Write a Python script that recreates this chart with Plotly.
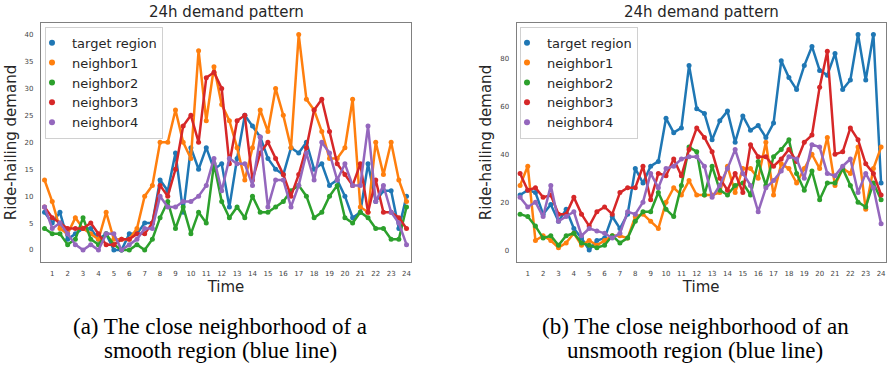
import plotly.graph_objects as go

# ---------------- data ----------------
TIME = [0.5, 1.0, 1.5, 2.0, 2.5, 3.0, 3.5, 4.0, 4.5, 5.0, 5.5, 6.0, 6.5, 7.0, 7.5, 8.0,
        8.5, 9.0, 9.5, 10.0, 10.5, 11.0, 11.5, 12.0, 12.5, 13.0, 13.5, 14.0, 14.5, 15.0, 15.5, 16.0,
        16.5, 17.0, 17.5, 18.0, 18.5, 19.0, 19.5, 20.0, 20.5, 21.0, 21.5, 22.0, 22.5, 23.0, 23.5, 24.0]
HOUR_TICKS = [1, 2, 3, 4, 5, 6, 7, 8, 9, 10, 11, 12, 13, 14, 15, 16, 17, 18, 19, 20, 21, 22, 23, 24]
SERIES_NAMES = ["target region", "neighbor1", "neighbor2", "neighbor3", "neighbor4"]

# (a) smooth region
smooth_target = [7, 5, 7, 2, 3, 4, 4, 2, 3, 0, 0, 3, 3, 5, 5, 13,
                 11, 18, 7, 19, 15, 19, 15, 16, 8, 17, 25, 23, 21, 17, 15, 14,
                 19, 18, 20, 15, 16, 12, 13, 10, 6, 7, 16, 9, 11, 11, 4, 10]
smooth_n1 = [13, 9, 4, 3, 6, 4, 3, 2, 7, 2, 2, 2, 4, 10, 12, 20,
             20, 26, 20, 17, 37, 24, 34, 27, 24, 19, 13, 19, 26, 22, 30, 25,
             19, 40, 28, 26, 22, 17, 17, 19, 28, 8, 7, 20, 14, 20, 13, 9]
smooth_n2 = [4, 3, 3, 1, 2, 6, 2, 1, 3, 1, 0, 0, 1, 0, 2, 6,
             9, 4, 8, 3, 7, 5, 16, 9, 6, 8, 6, 10, 7, 7, 8, 9,
             11, 12, 10, 6, 7, 10, 12, 6, 5, 7, 6, 4, 4, 2, 2, 8]
smooth_n3 = [8, 6, 5, 4, 4, 4, 5, 3, 1, 1, 2, 2, 3, 3, 5, 12,
             10, 15, 23, 25, 20, 32, 33, 30, 16, 24, 25, 13, 18, 20, 17, 14,
             10, 14, 19, 26, 28, 22, 16, 14, 12, 16, 7, 13, 7, 7, 6, 4]
smooth_n4 = [8, 4, 5, 3, 1, 0, 1, 0, 3, 3, 0, 1, 2, 4, 4, 10,
             8, 8, 9, 9, 10, 12, 17, 11, 17, 16, 16, 12, 21, 8, 13, 13,
             8, 12, 18, 13, 20, 18, 13, 16, 12, 12, 23, 9, 12, 7, 5, 1]

# (b) unsmooth region
unsmooth_target = [23, 25, 24, 15, 19, 12, 17, 9, 5, 0, 4, 5, 14, 9, 15, 34,
                   28, 35, 37, 55, 49, 51, 77, 59, 57, 46, 54, 58, 45, 56, 50, 52,
                   47, 53, 79, 72, 67, 77, 85, 75, 73, 82, 67, 71, 90, 71, 90, 28]
unsmooth_n1 = [27, 35, 4, 6, 4, 1, 3, 7, 2, 4, 2, 4, 6, 6, 5, 14,
               15, 12, 9, 20, 26, 23, 29, 23, 23, 23, 24, 35, 24, 34, 34, 30,
               45, 23, 36, 34, 28, 34, 40, 34, 47, 27, 34, 32, 43, 17, 34, 43]
unsmooth_n2 = [15, 14, 10, 5, 6, 2, 6, 7, 3, 2, 1, 2, 6, 3, 5, 12,
               16, 16, 24, 17, 14, 27, 43, 41, 23, 35, 25, 23, 27, 28, 23, 37,
               27, 39, 42, 46, 32, 25, 33, 21, 28, 28, 34, 27, 20, 18, 28, 21]
unsmooth_n3 = [32, 25, 26, 22, 23, 15, 15, 22, 15, 10, 16, 18, 15, 24, 26, 26,
               35, 21, 32, 31, 38, 31, 42, 51, 47, 41, 30, 25, 32, 24, 44, 39,
               39, 35, 38, 42, 37, 45, 48, 68, 83, 40, 41, 51, 46, 36, 32, 23]
unsmooth_n4 = [22, 18, 20, 14, 27, 12, 14, 16, 6, 9, 8, 7, 5, 7, 16, 15,
               20, 32, 26, 34, 35, 38, 39, 39, 35, 22, 27, 34, 42, 32, 27, 16,
               26, 29, 33, 39, 38, 30, 44, 43, 32, 31, 35, 38, 24, 32, 26, 11]

SMOOTH_TICKS = [0, 5, 10, 15, 20, 25, 30, 35, 40]
UNSMOOTH_TICKS = [0, 20, 40, 60, 80]
CAPTIONS = [["(a) The close neighborhood of a", "smooth region (blue line)"],
            ["(b) The close neighborhood of an", "unsmooth region (blue line)"]]
TITLE = "24h demand pattern"

# ---------------- style ----------------
COLORS = ["#1f77b4", "#ff7f0e", "#2ca02c", "#d62728", "#9467bd"]
W, H = 887, 366
TXT = "#262626"
FONT = "DejaVu Sans"

def px_x(p):
    return p / W

def px_y(p):
    return 1 - p / H

fig = go.Figure()

panels = [
    dict(series=[smooth_target, smooth_n1, smooth_n2, smooth_n3, smooth_n4],
         xa="x", ya="y", legend="legend"),
    dict(series=[unsmooth_target, unsmooth_n1, unsmooth_n2, unsmooth_n3, unsmooth_n4],
         xa="x2", ya="y2", legend="legend2"),
]

for p in panels:
    for name, vals, col in zip(SERIES_NAMES, p["series"], COLORS):
        fig.add_trace(go.Scatter(
            x=TIME, y=vals, mode="lines+markers", name=name,
            line=dict(color=col, width=2.5),
            marker=dict(color=col, size=5),
            xaxis=p["xa"], yaxis=p["ya"], showlegend=False, hoverinfo="skip"))
    # legend entries (dot-only handles, like a scatter legend)
    for name, col in zip(SERIES_NAMES, COLORS):
        fig.add_trace(go.Scatter(
            x=[None], y=[None], mode="markers", name=name,
            marker=dict(color=col, size=6),
            xaxis=p["xa"], yaxis=p["ya"], showlegend=True, legend=p["legend"]))

ydom = [px_y(262.3), px_y(22.7)]
x1dom = [px_x(41), px_x(411)]
x2dom = [px_x(516.7), px_x(885.7)]

axis_common = dict(showline=True, mirror=True, linecolor="#808080", linewidth=1.3,
                   showgrid=False, zeroline=False, ticks="",
                   tickfont=dict(family=FONT, size=7, color="#444444"))

legend_common = dict(xanchor="left", yanchor="top", bgcolor="white",
                     bordercolor="#d0d0d0", borderwidth=1, indentation=-14,
                     font=dict(family=FONT, size=13, color=TXT), itemwidth=30)

fig.update_layout(
    width=W, height=H,
    margin=dict(l=0, r=0, t=0, b=0),
    paper_bgcolor="white", plot_bgcolor="white",
    showlegend=True,
    xaxis=dict(domain=x1dom, anchor="y", range=[0.27, 24.29], tickvals=HOUR_TICKS,
               ticktext=[str(t) for t in HOUR_TICKS], ticklabelstandoff=4,
               title=dict(text="Time", font=dict(family=FONT, size=15, color=TXT), standoff=2),
               **axis_common),
    yaxis=dict(domain=ydom, anchor="x", range=[-2.28, 42.2], tickvals=SMOOTH_TICKS,
               ticklabelstandoff=5,
               title=dict(text="Ride-hailing demand", font=dict(family=FONT, size=15, color=TXT), standoff=4),
               **axis_common),
    xaxis2=dict(domain=x2dom, anchor="y2", range=[0.28, 24.3], tickvals=HOUR_TICKS,
                ticktext=[str(t) for t in HOUR_TICKS], ticklabelstandoff=4,
                title=dict(text="Time", font=dict(family=FONT, size=15, color=TXT), standoff=2),
                **axis_common),
    yaxis2=dict(domain=ydom, anchor="x2", range=[-5.1, 94.9], tickvals=UNSMOOTH_TICKS,
                ticklabelstandoff=5,
                title=dict(text="Ride-hailing demand", font=dict(family=FONT, size=15, color=TXT), standoff=4),
                **axis_common),
    legend=dict(x=px_x(45), y=px_y(26.7), **legend_common),
    legend2=dict(x=px_x(520), y=px_y(26.7), **legend_common),
)

# subplot titles
for cx in [(41 + 411) / 2, (516.7 + 885.7) / 2]:
    fig.add_annotation(text=TITLE, x=px_x(cx), y=px_y(12), xref="paper", yref="paper",
                       xanchor="center", yanchor="middle", showarrow=False,
                       font=dict(family=FONT, size=15, color=TXT))

# figure captions (two lines each)
for cx, lines in zip([220, 695], CAPTIONS):
    for cy, line in zip([326, 350], lines):
        fig.add_annotation(text=line, x=px_x(cx), y=px_y(cy), xref="paper", yref="paper",
                           xanchor="center", yanchor="middle", showarrow=False,
                           borderpad=0,
                           font=dict(family="Liberation Serif", size=23, color="black"))

fig.write_html("out.html")
